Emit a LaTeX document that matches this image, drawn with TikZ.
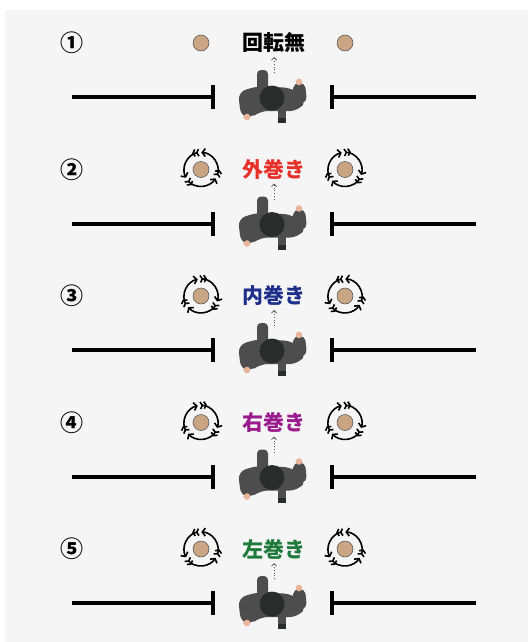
\documentclass[tikz,border=0pt]{standalone}
\usepackage{fontspec}
\newfontfamily\jpfont{Noto Sans CJK JP}
\usetikzlibrary{arrows.meta,calc}

\definecolor{paper}{HTML}{F5F5F5}
\definecolor{ballfill}{HTML}{C9A584}
\definecolor{coat}{HTML}{4D4D4D}
\definecolor{hair}{HTML}{2A2C2C}
\definecolor{skin}{HTML}{E8B49A}
\definecolor{outred}{HTML}{E8302A}
\definecolor{inblue}{HTML}{1F2F8C}
\definecolor{rpurple}{HTML}{9A1B8E}
\definecolor{lgreen}{HTML}{1F7A3C}

\tikzset{
  ball/.style={circle, minimum size=16pt, inner sep=0pt, fill=ballfill, draw=gray!60!black, line width=0.5pt},
  wall/.style={line width=4pt},
  turntext/.style={font=\jpfont\fontsize{21}{21}\selectfont\bfseries, inner sep=0pt},
  numtext/.style={font=\jpfont\fontsize{23}{23}\selectfont\bfseries, inner sep=0pt},
  spinarrow/.style={line width=1.6pt,
    {Straight Barb[reversed,length=2pt 0,width=7pt 0]Straight Barb[reversed,length=2pt 0,width=7pt 0]}-{Straight Barb[length=3pt 0,width=8pt 0]}},
  spin/.pic={
    \foreach \a in {25,145,265}
      \draw[spinarrow] (\a:17) arc[start angle=\a, delta angle=#1*114, radius=17];
  },
  % person seen from above, head at the origin
  walker/.pic={
    \fill[skin] (-11,1) circle (2.2) (11,1) circle (2.2);
    \fill[coat, rounded corners=4] (-15,-2) rectangle (-4,-28);
    \fill[coat, rounded corners=5] (18,8) -- (35,4) -- (33,-15) -- (22,-15) -- cycle;
    \fill[skin] (27,-16) circle (3.3);
    \fill[coat, rounded corners=8] (-34,-6) -- (-14,-12) -- (20,-10) -- (35,2) -- (26,13)
      -- (-12,13) -- (-21,20) -- (-31,19) -- cycle;
    \fill[skin] (-25,19) circle (3.3);
    \fill[coat] (6,8) rectangle (14,21);
    \fill[hair] (6,20) rectangle (14,25);
    \fill[hair] (0,0) circle (12.5);
  },
}

\begin{document}
\begin{tikzpicture}[x=1pt, y=-1pt]
  \useasboundingbox (0,0) rectangle (528,642);
  \fill[paper] (5,10) rectangle (528,642);

  \foreach \i/\txt/\col/\sl/\sr in {1/回転無/black/0/0, 2/外巻き/outred/-1/1,
      3/内巻き/inblue/1/-1, 4/右巻き/rpurple/1/1, 5/左巻き/lgreen/-1/-1}{
    \pgfmathsetmacro\y{43+(\i-1)*126.5}
    % number, label and the two balls
    \node[numtext] (n\i) at (72,\y) {\ifcase\i\or ①\or ②\or ③\or ④\or ⑤\fi};
    \node[turntext, text=\col] (t\i) at (274,\y) {\txt};
    \node[ball] (bl\i) at (201,\y) {};
    \node[ball] (br\i) at (345,\y) {};
    \ifnum\sl=0\else
      \pic at (bl\i) {spin=\sl};
      \pic at (br\i) {spin=\sr};
    \fi
    % walls
    \coordinate (wl\i) at (72,\y+54);
    \coordinate (gl\i) at (213,\y+54);
    \coordinate (gr\i) at (332,\y+54);
    \coordinate (wr\i) at (476,\y+54);
    \draw[wall] (wl\i) -- (gl\i);
    \draw[wall] ($(gl\i)+(0,-12)$) -- ($(gl\i)+(0,12)$);
    \draw[wall] (gr\i) -- (wr\i);
    \draw[wall] ($(gr\i)+(0,-12)$) -- ($(gr\i)+(0,12)$);
    % walker and heading
    \pic at (272,\y+55) {walker};
    \coordinate (hs\i) at (274,\y+30);
    \coordinate (he\i) at (274,\y+14);
    \draw[gray!70!black, dotted, line width=0.8pt, -{Straight Barb[length=2.5pt,width=5pt]}] (hs\i) -- (he\i);
  }
\end{tikzpicture}
\end{document}
